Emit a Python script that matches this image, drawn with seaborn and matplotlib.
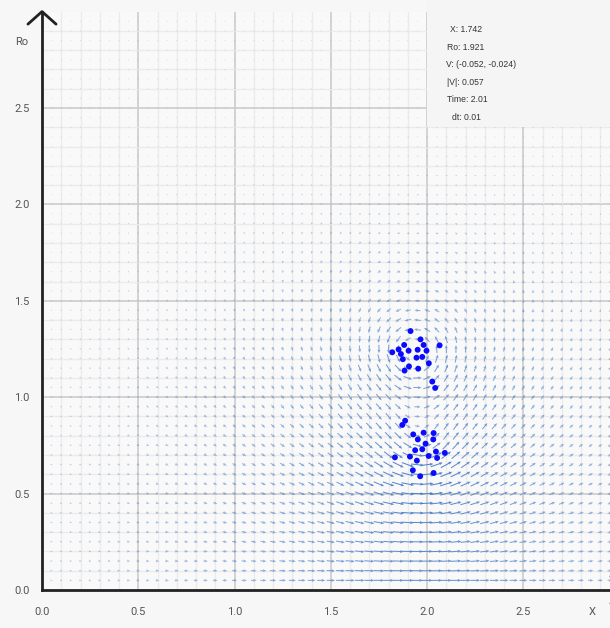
import numpy as np
import matplotlib
matplotlib.use("Agg")
import matplotlib.pyplot as plt
import seaborn as sns
import pandas as pd
from matplotlib.patches import Rectangle

# ---- data ----
upper_x = [1.914, 1.966, 2.065, 1.881, 1.982, 1.852, 1.904, 1.951, 1.997, 1.819,
           1.864, 1.975, 1.945, 1.874, 2.009, 1.906, 1.954, 1.883, 2.027, 2.042]
upper_ro = [1.343, 1.300, 1.269, 1.271, 1.271, 1.248, 1.241, 1.246, 1.241, 1.233,
            1.224, 1.209, 1.205, 1.197, 1.176, 1.160, 1.148, 1.138, 1.081, 1.048]
lower_x = [1.886, 1.871, 1.928, 1.982, 2.034, 1.952, 2.032, 1.992, 1.938, 1.975,
           2.046, 2.092, 1.833, 1.911, 2.008, 2.052, 1.947, 1.926, 2.034, 1.964]
lower_ro = [0.878, 0.856, 0.807, 0.816, 0.814, 0.781, 0.781, 0.759, 0.725, 0.730,
            0.718, 0.711, 0.688, 0.692, 0.695, 0.685, 0.671, 0.621, 0.607, 0.590]

x_ticks = [0.0, 0.5, 1.0, 1.5, 2.0, 2.5]
y_ticks = [0.0, 0.5, 1.0, 1.5, 2.0, 2.5]
info_lines = ["X: 1.742", "Ro: 1.921", "V: (-0.052, -0.024)", "|V|: 0.057",
              "Time: 2.01", "dt: 0.01"]

particles = pd.DataFrame({
    "X": upper_x + lower_x,
    "Ro": upper_ro + lower_ro,
})


# ---- axisymmetric velocity field induced by the vortex-ring particles ----
def ellipke(m):
    a = np.ones_like(m)
    b = np.sqrt(1 - m)
    s = 0.5 * m
    p = 0.5
    for _ in range(14):
        c = (a - b) / 2
        a, b = (a + b) / 2, np.sqrt(a * b)
        p *= 2
        s = s + p * c * c
    K = np.pi / (2 * a)
    return K, K * (1 - s)


gamma = 0.02
core = 0.07
gx = np.arange(0.05, 2.95, 0.05)
gy = np.arange(0.05, 3.0, 0.05)
GX, GY = np.meshgrid(gx, gy)
U = np.zeros_like(GX)
V = np.zeros_like(GX)
for xi, ai in zip(particles["X"], particles["Ro"]):
    dx = GX - xi
    r = GY
    A = (r + ai) ** 2 + dx ** 2 + core ** 2
    B = (r - ai) ** 2 + dx ** 2 + core ** 2
    m = 1 - B / A
    K, E = ellipke(m)
    pre = gamma / (2 * np.pi * np.sqrt(A))
    U += pre * (K + (ai ** 2 - r ** 2 - dx ** 2) / B * E)
    V += pre * dx / r * (-K + (ai ** 2 + r ** 2 + dx ** 2) / B * E)
mag = np.hypot(U, V)
mn = np.clip(mag / np.percentile(mag, 99.5), 0, 1)
L = 0.066 * mn ** 0.65
Us = U / (mag + 1e-12) * L
Vs = V / (mag + 1e-12) * L
alpha = 0.2 + 0.72 * mn ** 0.55
cols = np.zeros((mag.size, 4))
cols[:, 0] = 0.27
cols[:, 1] = 0.48
cols[:, 2] = 0.78
cols[:, 3] = alpha.ravel()

# ---- figure ----
sns.set_theme(style="white")
plt.rcParams['font.family'] = ['Roboto', 'DejaVu Sans']

W, H = 610, 628
fig = plt.figure(figsize=(W / 100, H / 100), dpi=100, facecolor='#f7f7f7')
ax = fig.add_axes([42 / W, 38 / H, 568 / W, 578.4 / H])
ax.set_facecolor('#f9f9f9')
ax.set_xlim(0, 2.95)
ax.set_ylim(0, 3.0)

# grid
for v in np.arange(0.1, 3.0, 0.1):
    major = abs(v / 0.5 - round(v / 0.5)) < 1e-6
    c = '#d2d2d2' if major else '#ebebeb'
    lw = 1.4 if major else 1.0
    ax.axvline(v, color=c, lw=lw, zorder=0)
    ax.axhline(v, color=c, lw=lw, zorder=0)

ax.quiver(GX.ravel(), GY.ravel(), Us.ravel(), Vs.ravel(), color=cols,
          angles='xy', scale_units='xy', scale=1, pivot='mid',
          width=0.0018, headwidth=3, headlength=3.5, headaxislength=3,
          minlength=1.0, zorder=2)

sns.scatterplot(data=particles, x="X", y="Ro", ax=ax, color='#0a0aff', s=18,
                edgecolor='none', linewidth=0, zorder=3, legend=False)

for s in ['top', 'right']:
    ax.spines[s].set_visible(False)
for s in ['left', 'bottom']:
    ax.spines[s].set_color('#222222')
    ax.spines[s].set_linewidth(2.0)
    ax.spines[s].set_zorder(5)

ax.set_xticks(x_ticks)
ax.set_xticklabels([f"{t:.1f}" for t in x_ticks])
ax.set_yticks(y_ticks)
ax.set_yticklabels([f"{t:.1f}" for t in y_ticks])
ax.tick_params(axis='x', length=0, pad=12, labelsize=8, labelcolor='#555555')
ax.tick_params(axis='y', length=0, pad=9, labelsize=8, labelcolor='#555555')
ax.set_xlabel("")
ax.set_ylabel("")
ax.grid(False)

# axis arrows
ax.plot([-0.073, 0.0, 0.073], [2.935, 3.0, 2.935], color='#222222', lw=2.0,
        clip_on=False, zorder=6, solid_capstyle='round')
ax.plot([2.955, 3.02, 2.955], [0.07, 0.0, -0.07], color='#222222', lw=2.0,
        clip_on=False, zorder=6)

fig.text(21.7 / W, 1 - 41.7 / H, "Ro", ha='center', va='center', fontsize=8,
         color='#555555')
fig.text(591.7 / W, 1 - 611.7 / H, "X", ha='center', va='center', fontsize=8,
         color='#555555')

# info box
fig.patches.append(Rectangle((427 / W, 1 - 127 / H), (W - 427) / W, 127 / H,
                             transform=fig.transFigure, facecolor='#f5f5f5',
                             edgecolor='none', zorder=10))
lefts = [450, 447, 446, 447, 447, 452]
for i, (t, lx) in enumerate(zip(info_lines, lefts)):
    fig.text(lx / W, 1 - (30 + 17.4 * i) / H, t, ha='left', va='center',
             fontsize=6.2, color='#333333', zorder=11,
             family=['Liberation Sans', 'DejaVu Sans'])

fig.savefig("out.png", dpi=100, facecolor=fig.get_facecolor())
